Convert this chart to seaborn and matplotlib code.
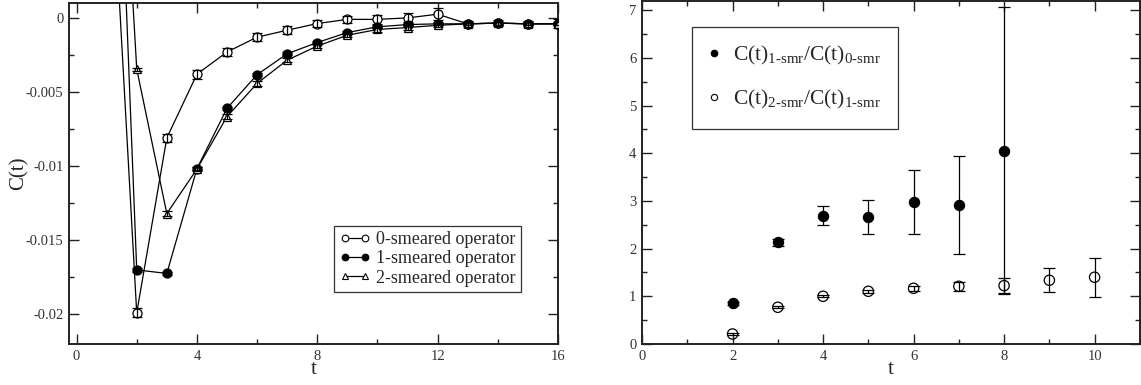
import numpy as np
import pandas as pd
import matplotlib
matplotlib.use("Agg")
import matplotlib.pyplot as plt
from matplotlib.lines import Line2D
from matplotlib.ticker import MultipleLocator, FuncFormatter
import seaborn as sns

# ---------------- data ----------------
t_left = [1, 2, 3, 4, 5, 6, 7, 8, 9, 10, 11, 12, 13, 14, 15, 16]
c_smr0 = [0.0166, -0.0199, -0.0081, -0.0038, -0.0023, -0.0013, -0.00083, -0.00038,
          -0.0001, -0.0001, 0.0, 0.00025, -0.0004, -0.00035, -0.0004, -0.0004]
e_smr0 = [0.0, 0.0003, 0.0003, 0.0003, 0.00025, 0.00025, 0.00025, 0.00025,
          0.00025, 0.0003, 0.0003, 0.0004, 0.0002, 0.0002, 0.0002, 0.0003]
c_smr1 = [0.0345, -0.0170, -0.01724, -0.01018, -0.0061, -0.00383, -0.00242, -0.00166,
          -0.00099, -0.0006, -0.00045, -0.0004, -0.0004, -0.00035, -0.0004, -0.0004]
e_smr1 = [0.0, 0.00012, 0.0001, 0.0001, 0.0001, 0.0001, 0.0001, 0.0001,
          0.0001, 0.0001, 0.0001, 0.0001, 0.0001, 0.0001, 0.0001, 0.0001]
c_smr2 = [0.0317, -0.00345, -0.0132, -0.0102, -0.00666, -0.00442, -0.00285, -0.0019,
          -0.00117, -0.00078, -0.00065, -0.0005, -0.0004, -0.00035, -0.0004, -0.0004]
e_smr2 = [0.0, 0.0001, 0.00015, 0.00015, 0.00015, 0.00015, 0.00015, 0.00015,
          0.00015, 0.00015, 0.00015, 0.00012, 0.0001, 0.0001, 0.0001, 0.0001]
labels_left = ["0-smeared operator", "1-smeared operator", "2-smeared operator"]

t_r10 = [2, 3, 4, 5, 6, 7, 8]
r10 = [0.853, 2.133, 2.685, 2.664, 2.98, 2.916, 4.056]
er10 = [0.03, 0.075, 0.2, 0.35, 0.67, 1.03, 3.0]
t_r21 = [2, 3, 4, 5, 6, 7, 8, 9, 10]
r21 = [0.21, 0.77, 1.0, 1.105, 1.168, 1.21, 1.224, 1.336, 1.40]
er21 = [0.02, 0.02, 0.02, 0.03, 0.05, 0.09, 0.15, 0.255, 0.405]
labels_right = [r"C(t)$_{\rm 1\text{-}smr}$/C(t)$_{\rm 0\text{-}smr}$",
                r"C(t)$_{\rm 2\text{-}smr}$/C(t)$_{\rm 1\text{-}smr}$"]

# ---------------- style ----------------
sns.set_theme(style="ticks")
plt.rcParams["font.family"] = ["Liberation Serif", "DejaVu Serif"]
plt.rcParams["mathtext.fontset"] = "custom"
plt.rcParams["mathtext.rm"] = "Liberation Serif"
plt.rcParams["mathtext.it"] = "Liberation Serif:italic"
plt.rcParams["axes.unicode_minus"] = False

fig = plt.figure(figsize=(11.41, 3.85), dpi=100)
axL = fig.add_axes([0.0605, 0.1065, 0.4285, 0.8855])
axR = fig.add_axes([0.5627, 0.1065, 0.4363, 0.892])

def style_axes(ax):
    for s in ax.spines.values():
        s.set_linewidth(1.4)
        s.set_color("#222222")
    ax.tick_params(which="both", direction="in", top=True, right=True,
                   colors="#222222", labelsize=10.5, labelcolor="#333333")
    ax.tick_params(which="major", length=7, width=1.0, pad=4)
    ax.tick_params(which="minor", length=3.5, width=1.0)

# ---------------- left panel ----------------
df_left = pd.DataFrame({
    "t": t_left * 3,
    "C": c_smr0 + c_smr1 + c_smr2,
    "err": e_smr0 + e_smr1 + e_smr2,
    "op": [labels_left[0]] * len(t_left) + [labels_left[1]] * len(t_left) + [labels_left[2]] * len(t_left),
})
styles = {
    labels_left[0]: dict(marker="o", mfc="white", ms=6.5),
    labels_left[1]: dict(marker="o", mfc="black", ms=6.5),
    labels_left[2]: dict(marker="^", mfc="white", ms=6.0),
}
for lab in labels_left:
    sub = df_left[df_left["op"] == lab]
    sns.lineplot(data=sub, x="t", y="C", ax=axL, color="black", lw=0.9,
                 estimator=None, sort=False, legend=False)
    st = styles[lab]
    axL.plot(sub["t"], sub["C"], ls="none", marker=st["marker"], mfc=st["mfc"],
             mec="black", mew=0.9, ms=st["ms"], zorder=3)
    axL.errorbar(sub["t"], sub["C"], yerr=sub["err"], fmt="none", ecolor="black",
                 elinewidth=0.9, capsize=3.5, capthick=0.9, zorder=4)

axL.set_xlim(-0.25, 16)
axL.set_ylim(-0.022, 0.001)
axL.xaxis.set_major_locator(MultipleLocator(4))
axL.xaxis.set_minor_locator(MultipleLocator(2))
axL.yaxis.set_major_locator(MultipleLocator(0.005))
axL.yaxis.set_minor_locator(MultipleLocator(0.0025))
axL.yaxis.set_major_formatter(FuncFormatter(lambda v, p: f"{v:g}" if abs(v) > 1e-12 else "0"))
style_axes(axL)
axL.set_xlabel("t", fontsize=16, labelpad=-2)
axL.set_ylabel("C(t)", fontsize=15, labelpad=-2)

handlesL = [Line2D([0], [0], color="black", lw=0.9, marker=styles[l]["marker"],
                   mfc=styles[l]["mfc"], mec="black", mew=0.8, ms=4.8) for l in labels_left]
legL = axL.legend(handlesL, labels_left, loc="lower right", bbox_to_anchor=(0.924, 0.1525),
                  numpoints=2, handlelength=1.7, handletextpad=0.3, fontsize=13,
                  frameon=True, fancybox=False, edgecolor="black", borderpad=0.3,
                  labelspacing=0.12, borderaxespad=0)
legL.get_frame().set_linewidth(0.9)

# ---------------- right panel ----------------
df_r = pd.DataFrame({
    "t": t_r10 + t_r21,
    "R": r10 + r21,
    "err": er10 + er21,
    "ratio": [labels_right[0]] * len(t_r10) + [labels_right[1]] * len(t_r21),
})
sub1 = df_r[df_r["ratio"] == labels_right[0]]
sub2 = df_r[df_r["ratio"] == labels_right[1]]
axR.errorbar(sub1["t"], sub1["R"], yerr=sub1["err"], fmt="none", ecolor="black",
             elinewidth=0.9, capsize=4.5, capthick=0.9, zorder=2)
axR.errorbar(sub2["t"], sub2["R"], yerr=sub2["err"], fmt="none", ecolor="black",
             elinewidth=0.9, capsize=4.5, capthick=0.9, zorder=2)
sns.scatterplot(data=sub1, x="t", y="R", ax=axR, marker="o", color="black",
                edgecolor="black", s=55, linewidth=0.8, zorder=3, legend=False)
sns.scatterplot(data=sub2, x="t", y="R", ax=axR, marker="o", facecolor="none",
                edgecolor="black", s=55, linewidth=0.9, zorder=3, legend=False)

axR.set_xlim(0, 11)
axR.set_ylim(0, 7.2)
axR.xaxis.set_major_locator(MultipleLocator(2))
axR.xaxis.set_minor_locator(MultipleLocator(1))
axR.yaxis.set_major_locator(MultipleLocator(1))
axR.yaxis.set_minor_locator(MultipleLocator(0.5))
style_axes(axR)
axR.set_xlabel("t", fontsize=16, labelpad=-2)
axR.set_ylabel("")

handlesR = [Line2D([0], [0], ls="none", marker="o", mfc="black", mec="black", ms=4.5),
            Line2D([0], [0], ls="none", marker="o", mfc="white", mec="black", mew=0.8, ms=4.5)]
legR = axR.legend(handlesR, labels_right, loc="upper left", bbox_to_anchor=(0.0998, 0.924),
                  numpoints=1, handlelength=0.5, handletextpad=0.6, fontsize=15.5,
                  frameon=True, fancybox=False, edgecolor="black", borderpad=0.8,
                  labelspacing=1.0, borderaxespad=0)
legR.get_frame().set_linewidth(0.9)

fig.savefig("out.png", dpi=100)
